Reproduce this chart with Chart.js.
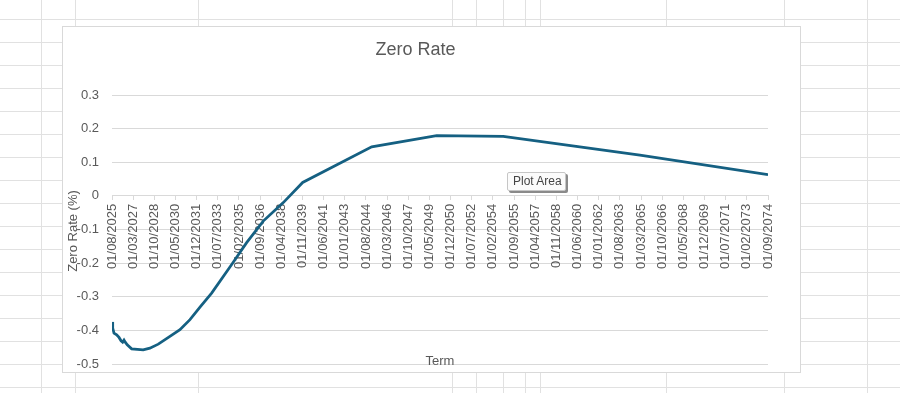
<!DOCTYPE html>
<html><head><meta charset="utf-8">
<script src="https://cdn.jsdelivr.net/npm/chart.js@4.4.1/dist/chart.umd.min.js"></script>
<style>
html,body{margin:0;padding:0;width:900px;height:393px;overflow:hidden;background:#fff;font-family:"Liberation Sans",Arial,sans-serif;}
#sheet{position:absolute;left:0;top:0;width:900px;height:393px;}
.hl{position:absolute;left:0;width:900px;height:1px;background:#e1e1e1;}
.vl{position:absolute;top:0;width:1px;height:393px;background:#e1e1e1;}
#box{position:absolute;left:62px;top:26px;width:739px;height:347px;box-sizing:border-box;border:1px solid #d9d9d9;background:#fff;}
#box canvas{position:absolute;left:0;top:0;}
#tip{position:absolute;left:507px;top:172px;width:59px;height:19px;box-sizing:border-box;border:1px solid #c6c6c6;border-radius:2px;background:#fbfbfb;box-shadow:2px 2px 0 #8a8a8a;font-size:12px;color:#444;line-height:17px;padding-left:5px;white-space:nowrap;}
</style></head>
<body>
<div id="sheet"></div>
<div id="box"><canvas id="c" width="737" height="345"></canvas></div>
<div id="tip">Plot Area</div>
<script>
// ---- data ----
const chartTitle = 'Zero Rate';
const xTitle = 'Term';
const yTitle = 'Zero Rate (%)';
const termDates = [
  '2025-08-01','2025-08-20','2025-09-25','2025-12-07','2026-02-10','2026-04-05',
  '2026-05-18','2026-06-25','2026-07-28','2026-09-22','2027-01-20','2027-12-01',
  '2028-06-01','2029-01-18','2029-12-01','2030-09-01','2031-06-01','2032-03-01',
  '2033-01-15','2034-07-15','2035-08-28','2036-11-25','2038-05-25','2039-11-07',
  '2045-01-07','2049-11-15','2054-11-10','2065-02-01','2074-09-01'
];
const zeroRates = [
  -0.375,-0.393,-0.408,-0.413,-0.421,-0.431,
  -0.435,-0.429,-0.435,-0.443,-0.455,-0.458,
  -0.453,-0.441,-0.418,-0.398,-0.368,-0.331,
  -0.289,-0.204,-0.139,-0.075,-0.020,0.040,
  0.146,0.179,0.177,0.121,0.063
];
const tickLabels = [
  '01/08/2025','01/03/2027','01/10/2028','01/05/2030','01/12/2031','01/07/2033',
  '01/02/2035','01/09/2036','01/04/2038','01/11/2039','01/06/2041','01/01/2043',
  '01/08/2044','01/03/2046','01/10/2047','01/05/2049','01/12/2050','01/07/2052',
  '01/02/2054','01/09/2055','01/04/2057','01/11/2058','01/06/2060','01/01/2062',
  '01/08/2063','01/03/2065','01/10/2066','01/05/2068','01/12/2069','01/07/2071',
  '01/02/2073','01/09/2074'
];
const yMin = -0.5, yMax = 0.3, yStep = 0.1;

// ---- background spreadsheet grid ----
const sheet = document.getElementById('sheet');
for (let y = 19; y < 393; y += 23) {
  const d = document.createElement('div'); d.className = 'hl'; d.style.top = y + 'px'; sheet.appendChild(d);
}
[41, 75, 198, 452, 476, 503, 525, 540, 666, 784, 867].forEach(x => {
  const d = document.createElement('div'); d.className = 'vl'; d.style.left = x + 'px'; sheet.appendChild(d);
});

// ---- helpers ----
function monthsFrom(y, m, d) { return (y - 2025) * 12 + (m - 8) + (d - 1) / 30.4; }
function isoToMonths(s) { const [y, m, d] = s.split('-').map(Number); return monthsFrom(y, m, d); }
function tickToMonths(s) { const [d, m, y] = s.split('/').map(Number); return monthsFrom(y, m, d); }

const points = termDates.map((t, i) => ({ x: isoToMonths(t), y: zeroRates[i] }));
const FONT = '"Liberation Sans", Arial, sans-serif';

const axisTitles = {
  id: 'axisTitles',
  afterDraw(chart) {
    const ctx = chart.ctx, a = chart.chartArea;
    ctx.save();
    ctx.fillStyle = '#595959';
    ctx.font = '13px ' + FONT;
    ctx.textAlign = 'center';
    ctx.textBaseline = 'middle';
    ctx.fillText(xTitle, (a.left + a.right) / 2, a.bottom - 2.5);
    ctx.translate(10.5, 204);
    ctx.rotate(-Math.PI / 2);
    ctx.fillText(yTitle, 0, 0);
    ctx.restore();
  }
};

new Chart(document.getElementById('c'), {
  type: 'line',
  data: {
    datasets: [{
      data: points,
      borderColor: '#156082',
      borderWidth: 2.75,
      pointRadius: 0,
      tension: 0,
      fill: false
    }]
  },
  options: {
    responsive: false,
    animation: false,
    devicePixelRatio: 1,
    layout: { padding: { left: 0, right: 32, top: 0, bottom: 8 } },
    plugins: {
      legend: { display: false },
      tooltip: { enabled: false },
      title: {
        display: true, text: chartTitle, color: '#595959',
        font: { family: FONT, size: 18, weight: 'normal' },
        padding: { top: 12, bottom: 34.4 }
      }
    },
    scales: {
      x: {
        type: 'linear',
        position: { y: 0 },
        min: tickToMonths(tickLabels[0]),
        max: tickToMonths(tickLabels[tickLabels.length - 1]),
        afterBuildTicks: s => { s.ticks = tickLabels.map(t => ({ value: tickToMonths(t) })); },
        afterFit: s => { s.paddingTop = 0; s.paddingBottom = 0; s.paddingLeft = 0; s.paddingRight = 0; },
        ticks: {
          autoSkip: false, minRotation: 90, maxRotation: 90, padding: 4,
          color: '#595959', font: { family: FONT, size: 13 },
          callback: (v, i) => tickLabels[i]
        },
        grid: { drawOnChartArea: false, drawTicks: true, tickLength: 4, color: '#d9d9d9' },
        border: { display: true, color: '#d9d9d9', width: 1 }
      },
      y: {
        type: 'linear',
        min: yMin, max: yMax,
        afterFit: s => { s.width = 49; s.paddingTop = 0; s.paddingBottom = 0; },
        ticks: {
          stepSize: yStep, padding: 13, color: '#595959',
          font: { family: FONT, size: 13 },
          callback: v => Math.abs(v) < 1e-9 ? '0' : (Math.round(v * 10) / 10).toFixed(1)
        },
        grid: { color: '#d9d9d9', drawTicks: false },
        border: { display: false }
      }
    }
  },
  plugins: [axisTitles]
});
</script>
</body></html>
